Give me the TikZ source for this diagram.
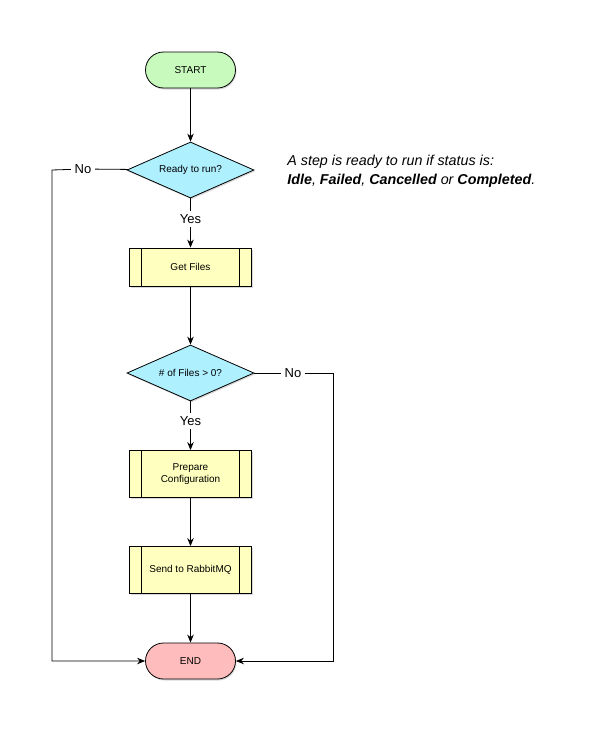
\documentclass[tikz,border=0pt]{standalone}
\usepackage{fontspec}
\setmainfont{Liberation Sans}
\usetikzlibrary{arrows.meta}
\usetikzlibrary{shapes.geometric}
\usetikzlibrary{shadows}

\definecolor{startgreen}{RGB}{200,250,190}
\definecolor{endpink}{RGB}{255,188,188}
\definecolor{decisioncyan}{RGB}{175,240,255}
\definecolor{processyellow}{RGB}{255,255,192}

\begin{document}
\begin{tikzpicture}[
    x=1pt, y=-1pt,
    >={Stealth[length=8pt,width=6.5pt]},
    line width=0.8pt,
    shade/.style={drop shadow={shadow xshift=1pt, shadow yshift=-1.5pt, opacity=0.3}},
    terminal/.style={draw, shade, rounded corners=18pt, minimum width=90pt,
      minimum height=36pt, font=\fontsize{10}{12}\selectfont},
    decision/.style={draw, diamond, shade, aspect=2.27, inner sep=0pt,
      minimum width=127pt, minimum height=56pt, fill=decisioncyan,
      font=\fontsize{10}{12}\selectfont},
    process/.style={draw, shade, rectangle, minimum width=122pt, fill=processyellow,
      align=center, font=\fontsize{10}{12}\selectfont,
      path picture={
        \draw ([xshift=12pt]path picture bounding box.north west)
          -- ([xshift=12pt]path picture bounding box.south west);
        \draw ([xshift=-12pt]path picture bounding box.north east)
          -- ([xshift=-12pt]path picture bounding box.south east);
      }},
    answer/.style={font=\fontsize{13}{15}\selectfont, inner sep=3.5pt},
    note/.style={font=\fontsize{14.3}{19}\selectfont\itshape, align=left, inner sep=0pt}
    ]

    \useasboundingbox (0,0) rectangle (592,736);

    \node[terminal, fill=startgreen] (start) at (190.5,70) {START};
    \node[decision] (ready) at (190.5,170) {Ready to run?};
    \node[answer] (yesready) at (190.5,219) {Yes};
    \node[process, minimum height=38pt] (getfiles) at (190.5,267) {Get Files};
    \node[decision] (anyfiles) at (190.5,373) {\# of Files > 0?};
    \node[answer] (yesfiles) at (190.5,421) {Yes};
    \node[process, minimum height=47pt] (prepare) at (190.5,474) {Prepare\\Configuration};
    \node[process, minimum height=47pt] (send) at (190.5,570) {Send to RabbitMQ};
    \node[terminal, fill=endpink] (end) at (190.5,661) {END};

    \node[answer] (noready) at (83,169) {No};
    \node[answer] (nofiles) at (293,373) {No};
    \coordinate (leftbend) at (52,170);
    \coordinate (rightbend) at (333,373);

    \node[note, anchor=north west] (status) at (287,155)
      {A step is ready to run if status is:\\
       \textbf{Idle}, \textbf{Failed}, \textbf{Cancelled} or \textbf{Completed}.};

    % main column
    \path[->]
    (start)    edge (ready)
    (yesready) edge (getfiles)
    (getfiles) edge (anyfiles)
    (yesfiles) edge (prepare)
    (prepare)  edge (send)
    (send)     edge (end);

    \path
    (ready)    edge (yesready)
    (anyfiles) edge (yesfiles)
    (ready)    edge (noready)
    (anyfiles) edge (nofiles);

    % side branches
    \draw[->] (noready) -- (leftbend) |- (end);
    \draw[->] (nofiles) -- (rightbend) |- (end);

  \end{tikzpicture}
\end{document}
